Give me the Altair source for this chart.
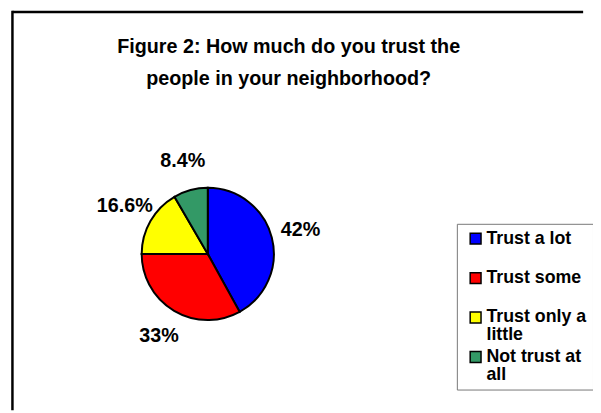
import altair as alt
import pandas as pd

TITLE_LINES = ["Figure 2: How much do you trust the", "people in your neighborhood?"]
CATEGORIES = ["Trust a lot", "Trust some", "Trust only a\nlittle", "Not trust at\nall"]
SHARES = [42.0, 33.0, 16.6, 8.4]
VALUE_LABELS = ["42%", "33%", "16.6%", "8.4%"]
COLORS = ["#0000FF", "#FF0000", "#FFFF00", "#339966"]

df = pd.DataFrame({
    "category": CATEGORIES,
    "share": SHARES,
    "label": VALUE_LABELS,
    "order": list(range(len(CATEGORIES))),
})

W, H = 593, 405
CX, CY = 202.5, 246.5
R = 67
FONT = "Liberation Sans"

base = alt.Chart(df).encode(
    theta=alt.Theta("share:Q", stack=True),
    order=alt.Order("order:Q"),
)

pie = base.mark_arc(outerRadius=R, stroke="black", strokeWidth=2).encode(
    x=alt.value(CX),
    y=alt.value(CY),
    color=alt.Color(
        "category:N",
        sort=CATEGORIES,
        scale=alt.Scale(domain=CATEGORIES, range=COLORS),
        legend=alt.Legend(
            title=None,
            orient="none",
            legendX=455,
            legendY=216,
            symbolType="square",
            symbolSize=121,
            symbolStrokeColor="black",
            symbolStrokeWidth=1.5,
            labelFont=FONT,
            labelFontSize=18,
            labelFontWeight="bold",
            labelColor="black",
            labelLimit=400,
            labelExpr="split(datum.label, '\\n')",
            labelOffset=2,
            symbolOffset=4,
            padding=6,
            rowPadding=4,
            gridAlign="all",
            strokeColor="#777777",
            fillColor="white",
        ),
    ),
)

labels = base.mark_text(
    radius=97, font=FONT, fontSize=20, fontWeight="bold", color="black"
).encode(
    x=alt.value(CX),
    y=alt.value(CY),
    text="label:N",
)

frame_df = pd.DataFrame({"k": [0]})
frame_top = alt.Chart(frame_df).mark_rule(color="black", strokeWidth=2.5).encode(
    x=alt.value(4.5), x2=alt.value(583), y=alt.value(1.25)
)
frame_left = alt.Chart(frame_df).mark_rule(color="black", strokeWidth=2.5).encode(
    x=alt.value(4.5), y=alt.value(0), y2=alt.value(H)
)

chart = alt.layer(frame_top, frame_left, pie, labels).properties(
    width=W,
    height=H,
    padding=0,
    autosize=alt.AutoSizeParams(type="none"),
    title=alt.TitleParams(
        text=TITLE_LINES,
        font=FONT,
        fontSize=20,
        fontWeight="bold",
        color="black",
        anchor="middle",
        frame="group",
        baseline="top",
        lineHeight=33,
        offset=0,
        dx=-12,
        dy=81,
    ),
).configure(
    view=alt.ViewConfig(strokeWidth=0),
    style={"guide-label": {"lineHeight": 18}},
)

chart.save("out.html", embed_options={"renderer": "svg", "actions": False})
